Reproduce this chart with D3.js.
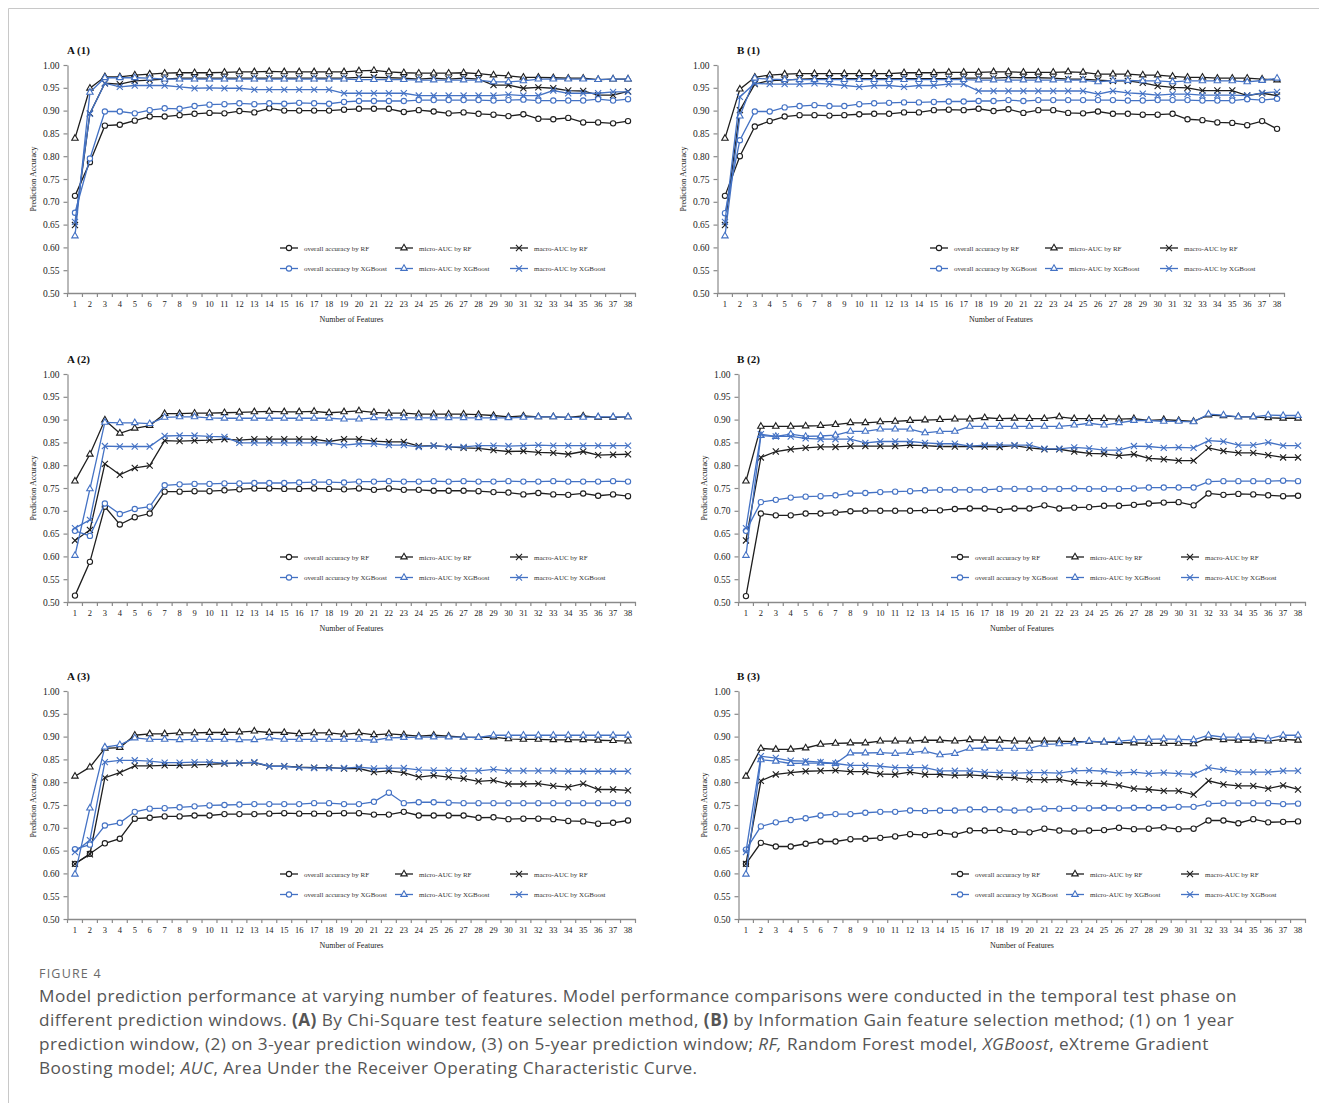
<!DOCTYPE html>
<html>
<head>
<meta charset="UTF-8">
<title>Figure 4</title>
<script src="https://d3js.org/d3.v7.min.js"></script>
<style>
  body { margin: 0; background: #fff; }
  svg text { font-family: "Liberation Serif", "Times New Roman", serif; }
  .cap { font-family: "Open Sans", "Noto Sans", sans-serif !important; }
</style>
</head>
<body>
<svg id="svg" width="1319" height="1103"></svg>
<script>
// ---- categories / ticks
var features = d3.range(1, 39);
var yTicks = [0.50, 0.55, 0.60, 0.65, 0.70, 0.75, 0.80, 0.85, 0.90, 0.95, 1.00];
var seriesLabels = ["overall accuracy by RF", "micro-AUC by RF", "macro-AUC by RF",
                    "overall accuracy by XGBoost", "micro-AUC by XGBoost", "macro-AUC by XGBoost"];

// ---- A (1)
var A1_overallRF  = [0.713,0.787,0.867,0.869,0.878,0.887,0.887,0.890,0.893,0.895,0.894,0.899,0.896,0.905,0.900,0.900,0.900,0.900,0.902,0.904,0.904,0.904,0.897,0.901,0.898,0.894,0.896,0.893,0.891,0.888,0.892,0.882,0.881,0.884,0.874,0.874,0.872,0.877];
var A1_microRF    = [0.839,0.949,0.974,0.974,0.978,0.980,0.982,0.983,0.983,0.983,0.984,0.985,0.985,0.986,0.985,0.985,0.985,0.985,0.985,0.987,0.988,0.985,0.983,0.982,0.982,0.982,0.983,0.981,0.978,0.976,0.973,0.973,0.972,0.971,0.971,0.968,0.969,0.969];
var A1_macroRF    = [0.649,0.894,0.960,0.958,0.965,0.967,0.969,0.971,0.971,0.971,0.971,0.971,0.971,0.971,0.971,0.971,0.971,0.971,0.971,0.973,0.973,0.972,0.971,0.969,0.971,0.969,0.971,0.969,0.956,0.956,0.949,0.951,0.949,0.944,0.943,0.934,0.934,0.942];
var A1_overallXGB = [0.676,0.795,0.898,0.898,0.894,0.901,0.905,0.904,0.910,0.913,0.914,0.916,0.914,0.916,0.915,0.917,0.916,0.915,0.919,0.921,0.921,0.921,0.921,0.923,0.923,0.923,0.923,0.923,0.922,0.923,0.924,0.922,0.922,0.922,0.922,0.925,0.922,0.925];
var A1_microXGB   = [0.625,0.940,0.972,0.972,0.972,0.971,0.969,0.969,0.969,0.969,0.969,0.969,0.969,0.969,0.969,0.969,0.969,0.969,0.969,0.968,0.968,0.968,0.968,0.967,0.967,0.967,0.967,0.967,0.963,0.963,0.965,0.969,0.969,0.969,0.969,0.968,0.969,0.969];
var A1_macroXGB   = [0.656,0.893,0.960,0.952,0.955,0.955,0.955,0.952,0.949,0.950,0.949,0.949,0.946,0.946,0.946,0.946,0.946,0.946,0.938,0.938,0.938,0.938,0.938,0.933,0.933,0.933,0.933,0.933,0.933,0.935,0.933,0.933,0.944,0.938,0.938,0.938,0.941,0.941];

// ---- B (1)
var B1_overallRF  = [0.713,0.800,0.865,0.877,0.887,0.890,0.890,0.889,0.890,0.892,0.893,0.893,0.896,0.896,0.901,0.902,0.901,0.904,0.899,0.903,0.895,0.901,0.901,0.895,0.894,0.898,0.893,0.893,0.891,0.891,0.893,0.881,0.879,0.874,0.873,0.868,0.877,0.860];
var B1_microRF    = [0.839,0.947,0.973,0.978,0.980,0.981,0.981,0.981,0.981,0.981,0.981,0.981,0.983,0.983,0.983,0.984,0.984,0.984,0.985,0.985,0.984,0.984,0.984,0.985,0.984,0.980,0.980,0.980,0.978,0.978,0.975,0.973,0.973,0.971,0.971,0.971,0.969,0.967];
var B1_macroRF    = [0.649,0.901,0.958,0.966,0.967,0.969,0.970,0.970,0.970,0.970,0.970,0.970,0.970,0.970,0.970,0.970,0.971,0.971,0.971,0.973,0.972,0.972,0.971,0.969,0.969,0.967,0.965,0.965,0.961,0.954,0.951,0.950,0.944,0.944,0.944,0.933,0.938,0.933];
var B1_overallXGB = [0.675,0.835,0.898,0.898,0.907,0.910,0.912,0.910,0.910,0.914,0.916,0.917,0.918,0.918,0.919,0.920,0.920,0.921,0.921,0.923,0.921,0.923,0.923,0.923,0.923,0.923,0.923,0.922,0.922,0.923,0.923,0.923,0.922,0.922,0.922,0.925,0.923,0.926];
var B1_microXGB   = [0.625,0.888,0.971,0.969,0.968,0.968,0.968,0.968,0.968,0.968,0.968,0.968,0.968,0.968,0.968,0.968,0.968,0.967,0.967,0.967,0.967,0.967,0.967,0.967,0.967,0.963,0.966,0.966,0.965,0.965,0.963,0.965,0.965,0.965,0.965,0.963,0.966,0.971];
var B1_macroXGB   = [0.656,0.930,0.960,0.958,0.958,0.958,0.960,0.958,0.955,0.952,0.955,0.955,0.952,0.955,0.955,0.958,0.958,0.943,0.943,0.943,0.943,0.943,0.943,0.943,0.943,0.936,0.943,0.939,0.937,0.934,0.936,0.936,0.934,0.934,0.934,0.933,0.939,0.941];

// ---- A (2)
var A2_overallRF  = [0.514,0.588,0.709,0.670,0.686,0.694,0.742,0.742,0.743,0.743,0.745,0.747,0.749,0.749,0.748,0.748,0.749,0.748,0.747,0.749,0.746,0.749,0.746,0.746,0.744,0.744,0.744,0.743,0.741,0.740,0.736,0.739,0.736,0.735,0.738,0.733,0.736,0.732];
var A2_microRF    = [0.765,0.824,0.899,0.870,0.881,0.887,0.913,0.913,0.914,0.914,0.915,0.916,0.917,0.918,0.917,0.917,0.918,0.915,0.917,0.919,0.916,0.914,0.914,0.912,0.912,0.912,0.912,0.911,0.909,0.906,0.908,0.906,0.906,0.905,0.908,0.905,0.905,0.906];
var A2_macroRF    = [0.635,0.658,0.803,0.779,0.794,0.799,0.854,0.853,0.854,0.855,0.857,0.855,0.857,0.857,0.857,0.857,0.857,0.852,0.857,0.857,0.853,0.851,0.851,0.842,0.843,0.840,0.838,0.837,0.833,0.830,0.831,0.828,0.827,0.824,0.830,0.822,0.823,0.824];
var A2_overallXGB = [0.656,0.645,0.716,0.693,0.704,0.709,0.756,0.758,0.759,0.759,0.760,0.760,0.761,0.761,0.761,0.762,0.763,0.763,0.762,0.764,0.764,0.765,0.764,0.764,0.765,0.764,0.765,0.764,0.764,0.765,0.764,0.764,0.765,0.764,0.764,0.764,0.765,0.764];
var A2_microXGB   = [0.602,0.748,0.894,0.893,0.893,0.891,0.905,0.906,0.906,0.904,0.903,0.903,0.903,0.903,0.903,0.903,0.903,0.903,0.901,0.901,0.904,0.904,0.904,0.904,0.904,0.904,0.904,0.904,0.904,0.904,0.905,0.906,0.906,0.905,0.905,0.906,0.906,0.906];
var A2_macroXGB   = [0.662,0.680,0.842,0.841,0.841,0.841,0.864,0.865,0.865,0.863,0.862,0.849,0.849,0.849,0.849,0.849,0.849,0.849,0.844,0.847,0.847,0.844,0.844,0.840,0.843,0.840,0.840,0.843,0.843,0.842,0.843,0.844,0.843,0.843,0.843,0.843,0.843,0.843];

// ---- B (2)
var B2_overallRF  = [0.513,0.694,0.690,0.690,0.694,0.694,0.696,0.699,0.700,0.700,0.700,0.700,0.701,0.701,0.704,0.705,0.705,0.702,0.705,0.705,0.712,0.705,0.707,0.708,0.711,0.711,0.713,0.716,0.718,0.719,0.712,0.738,0.735,0.737,0.736,0.734,0.732,0.733];
var B2_microRF    = [0.765,0.885,0.885,0.885,0.886,0.887,0.889,0.893,0.893,0.895,0.896,0.898,0.899,0.900,0.901,0.901,0.904,0.902,0.903,0.902,0.902,0.906,0.902,0.902,0.902,0.901,0.902,0.898,0.900,0.898,0.896,0.910,0.908,0.906,0.906,0.904,0.903,0.903];
var B2_macroRF    = [0.635,0.817,0.830,0.835,0.838,0.840,0.840,0.842,0.842,0.842,0.842,0.844,0.843,0.841,0.841,0.841,0.841,0.840,0.843,0.838,0.835,0.835,0.830,0.826,0.825,0.821,0.824,0.815,0.813,0.810,0.810,0.838,0.831,0.827,0.827,0.822,0.817,0.817];
var B2_overallXGB = [0.656,0.719,0.724,0.729,0.731,0.732,0.734,0.738,0.739,0.741,0.742,0.743,0.745,0.746,0.746,0.746,0.746,0.748,0.748,0.748,0.748,0.748,0.749,0.748,0.748,0.748,0.749,0.751,0.751,0.751,0.751,0.764,0.765,0.765,0.765,0.765,0.766,0.765];
var B2_microXGB   = [0.602,0.865,0.863,0.868,0.863,0.864,0.866,0.874,0.874,0.879,0.879,0.879,0.871,0.874,0.874,0.885,0.885,0.885,0.885,0.885,0.885,0.885,0.888,0.892,0.888,0.893,0.898,0.898,0.896,0.896,0.895,0.912,0.910,0.906,0.906,0.910,0.909,0.909];
var B2_macroXGB   = [0.662,0.868,0.863,0.863,0.859,0.857,0.857,0.857,0.849,0.852,0.852,0.852,0.849,0.847,0.847,0.842,0.844,0.844,0.844,0.844,0.836,0.836,0.839,0.837,0.833,0.833,0.842,0.841,0.838,0.839,0.838,0.854,0.852,0.844,0.844,0.850,0.843,0.843];

// ---- A (3)
var A3_overallRF  = [0.621,0.643,0.666,0.676,0.720,0.722,0.725,0.725,0.727,0.727,0.730,0.730,0.730,0.731,0.732,0.731,0.731,0.731,0.732,0.732,0.729,0.729,0.735,0.727,0.727,0.727,0.727,0.722,0.723,0.719,0.720,0.720,0.719,0.715,0.714,0.709,0.711,0.716];
var A3_microRF    = [0.813,0.833,0.874,0.876,0.903,0.906,0.906,0.908,0.908,0.909,0.909,0.910,0.912,0.909,0.909,0.906,0.908,0.908,0.905,0.908,0.904,0.906,0.904,0.901,0.903,0.901,0.899,0.898,0.899,0.895,0.894,0.894,0.893,0.893,0.893,0.892,0.891,0.890];
var A3_macroRF    = [0.621,0.642,0.810,0.821,0.836,0.836,0.837,0.837,0.838,0.839,0.841,0.842,0.843,0.835,0.835,0.833,0.832,0.832,0.830,0.830,0.822,0.825,0.821,0.811,0.815,0.811,0.808,0.802,0.804,0.796,0.796,0.797,0.792,0.789,0.797,0.784,0.784,0.782];
var A3_overallXGB = [0.653,0.663,0.705,0.711,0.735,0.742,0.743,0.745,0.747,0.749,0.750,0.751,0.752,0.752,0.752,0.752,0.754,0.754,0.752,0.752,0.757,0.777,0.754,0.756,0.756,0.755,0.754,0.754,0.754,0.754,0.754,0.754,0.754,0.754,0.754,0.754,0.754,0.754];
var A3_microXGB   = [0.598,0.743,0.877,0.882,0.897,0.894,0.894,0.893,0.894,0.894,0.894,0.893,0.893,0.897,0.894,0.894,0.894,0.894,0.894,0.894,0.892,0.897,0.898,0.899,0.899,0.899,0.899,0.898,0.903,0.903,0.903,0.903,0.903,0.903,0.903,0.903,0.903,0.903];
var A3_macroXGB   = [0.647,0.673,0.844,0.848,0.848,0.846,0.843,0.843,0.844,0.844,0.842,0.842,0.844,0.835,0.835,0.832,0.831,0.831,0.831,0.833,0.830,0.831,0.831,0.827,0.826,0.826,0.825,0.825,0.828,0.825,0.825,0.825,0.825,0.824,0.824,0.824,0.824,0.824];

// ---- B (3)
var B3_overallRF  = [0.621,0.667,0.659,0.659,0.665,0.670,0.670,0.675,0.676,0.678,0.681,0.686,0.684,0.689,0.685,0.694,0.694,0.695,0.691,0.690,0.698,0.694,0.692,0.694,0.695,0.700,0.697,0.698,0.701,0.697,0.698,0.716,0.716,0.710,0.719,0.712,0.713,0.714];
var B3_microRF    = [0.813,0.874,0.872,0.872,0.875,0.883,0.885,0.886,0.886,0.890,0.890,0.890,0.892,0.892,0.890,0.893,0.892,0.892,0.890,0.890,0.890,0.890,0.889,0.889,0.888,0.887,0.886,0.885,0.885,0.885,0.884,0.897,0.893,0.892,0.892,0.890,0.894,0.892];
var B3_macroRF    = [0.621,0.803,0.817,0.821,0.824,0.825,0.826,0.823,0.823,0.818,0.817,0.822,0.817,0.817,0.815,0.816,0.814,0.811,0.810,0.806,0.805,0.806,0.800,0.798,0.797,0.793,0.786,0.784,0.781,0.781,0.773,0.803,0.795,0.792,0.792,0.786,0.793,0.784];
var B3_overallXGB = [0.652,0.703,0.712,0.717,0.721,0.727,0.730,0.730,0.733,0.735,0.735,0.738,0.737,0.738,0.738,0.740,0.740,0.740,0.738,0.740,0.742,0.742,0.743,0.743,0.744,0.743,0.744,0.744,0.744,0.746,0.746,0.753,0.754,0.754,0.754,0.754,0.752,0.753];
var B3_microXGB   = [0.598,0.849,0.846,0.841,0.842,0.842,0.841,0.864,0.864,0.865,0.863,0.865,0.868,0.860,0.863,0.874,0.875,0.874,0.874,0.874,0.883,0.884,0.886,0.890,0.888,0.890,0.893,0.894,0.895,0.894,0.893,0.903,0.899,0.899,0.899,0.895,0.903,0.903];
var B3_macroXGB   = [0.647,0.857,0.853,0.847,0.846,0.844,0.841,0.837,0.837,0.835,0.832,0.832,0.832,0.825,0.825,0.825,0.822,0.821,0.820,0.821,0.821,0.820,0.825,0.826,0.824,0.820,0.822,0.819,0.821,0.819,0.817,0.832,0.827,0.822,0.822,0.822,0.825,0.825];

// ---- styles
var BLACK = "#1e1e1e", BLUE = "#4472c4";
var colors = [BLACK, BLACK, BLACK, BLUE, BLUE, BLUE];

var symbolX = d3.symbolTimes || {
  draw: function(ctx, size) {
    var r = Math.sqrt(size) / 2;
    ctx.moveTo(-r, -r); ctx.lineTo(r, r);
    ctx.moveTo(r, -r); ctx.lineTo(-r, r);
  }
};
var shapes = [
  d3.symbol().type(d3.symbolCircle).size(22),
  d3.symbol().type(d3.symbolTriangle).size(18),
  d3.symbol().type(symbolX).size(26),
  d3.symbol().type(d3.symbolCircle).size(22),
  d3.symbol().type(d3.symbolTriangle).size(18),
  d3.symbol().type(symbolX).size(26)
];

var panels = [
  {title: "A (1)", tx: 67,  left: 67.5,  right: 635.5,  top: 65,  data: [A1_overallRF, A1_microRF, A1_macroRF, A1_overallXGB, A1_microXGB, A1_macroXGB]},
  {title: "B (1)", tx: 737, left: 717.5, right: 1284.5, top: 65,  data: [B1_overallRF, B1_microRF, B1_macroRF, B1_overallXGB, B1_microXGB, B1_macroXGB]},
  {title: "A (2)", tx: 67,  left: 67.5,  right: 635.5,  top: 374, data: [A2_overallRF, A2_microRF, A2_macroRF, A2_overallXGB, A2_microXGB, A2_macroXGB]},
  {title: "B (2)", tx: 737, left: 738.5, right: 1305.5, top: 374, data: [B2_overallRF, B2_microRF, B2_macroRF, B2_overallXGB, B2_microXGB, B2_macroXGB]},
  {title: "A (3)", tx: 67,  left: 67.5,  right: 635.5,  top: 691, data: [A3_overallRF, A3_microRF, A3_macroRF, A3_overallXGB, A3_microXGB, A3_macroXGB]},
  {title: "B (3)", tx: 737, left: 738.5, right: 1305.5, top: 691, data: [B3_overallRF, B3_microRF, B3_macroRF, B3_overallXGB, B3_microXGB, B3_macroXGB]}
];

var svg = d3.select("#svg");
svg.append("rect").attr("width", 1319).attr("height", 1103).attr("fill", "#fff");

// frame
svg.append("path")
  .attr("d", "M8.5,1103V8.5H1319")
  .attr("fill", "none")
  .attr("stroke", "#c8c8c8");

var AXIS = "#8a8a8a";

panels.forEach(function(p) {
  var g = svg.append("g");
  var x = d3.scaleBand().domain(features).range([p.left, p.right]);
  var y = d3.scaleLinear().domain([0.5, 1]).range([p.top + 228, p.top]);
  var cx = function(i) { return x(features[i]) + x.bandwidth() / 2; };

  // title
  g.append("text")
    .attr("x", p.tx).attr("y", p.top - 11)
    .attr("font-size", 11).attr("font-weight", "bold").attr("fill", "#111")
    .text(p.title);

  // y axis
  var ya = g.append("g")
    .attr("transform", "translate(" + p.left + ",0)")
    .call(d3.axisLeft(y).tickValues(yTicks).tickFormat(d3.format(".2f")).tickSize(4).tickPadding(4).tickSizeOuter(0));
  ya.attr("font-family", null).attr("font-size", 9.5);
  ya.selectAll("path, line").attr("stroke", AXIS).attr("stroke-width", 1.2);
  ya.selectAll("text").attr("fill", "#222");

  // x axis (labels centred in categories, ticks on category boundaries)
  var xa = g.append("g")
    .attr("transform", "translate(0," + y(0.5) + ")")
    .call(d3.axisBottom(x).tickSize(0).tickPadding(8).tickSizeOuter(0));
  xa.attr("font-family", null).attr("font-size", 8.5);
  xa.select(".domain").attr("stroke", AXIS).attr("stroke-width", 1.4);
  xa.selectAll("text").attr("fill", "#222");
  xa.selectAll(".bound")
    .data(features.map(function(d) { return x(d); }).concat([p.right]))
    .join("line").attr("class", "bound")
    .attr("x1", function(d) { return d; }).attr("x2", function(d) { return d; })
    .attr("y1", 0).attr("y2", 4)
    .attr("stroke", AXIS).attr("stroke-width", 1.2);

  // axis titles
  g.append("text")
    .attr("x", (p.left + p.right) / 2).attr("y", y(0.5) + 29)
    .attr("text-anchor", "middle").attr("font-size", 8).attr("fill", "#222")
    .text("Number of Features");
  g.append("text")
    .attr("transform", "translate(" + (p.left - 32) + "," + (p.top + 114) + ")rotate(-90)")
    .attr("text-anchor", "middle").attr("font-size", 8).attr("fill", "#222")
    .text("Prediction Accuracy");

  // series
  var line = d3.line()
    .x(function(d, i) { return cx(i); })
    .y(function(d) { return y(d); });

  p.data.forEach(function(vals, s) {
    var sg = g.append("g");
    sg.append("path")
      .attr("d", line(vals))
      .attr("fill", "none")
      .attr("stroke", colors[s])
      .attr("stroke-width", 1.3);
    sg.selectAll("path.m")
      .data(vals)
      .join("path").attr("class", "m")
      .attr("transform", function(d, i) { return "translate(" + cx(i) + "," + y(d) + ")"; })
      .attr("d", shapes[s])
      .attr("fill", s % 3 === 2 ? "none" : "#fff")
      .attr("stroke", colors[s])
      .attr("stroke-width", 1.1);
  });

  // legend
  var lg = g.append("g");
  seriesLabels.forEach(function(lab, s) {
    var lx = p.left + 212.5 + (s % 3) * 115;
    var ly = p.top + 183 + Math.floor(s / 3) * 20.5;
    lg.append("line")
      .attr("x1", lx).attr("x2", lx + 18).attr("y1", ly).attr("y2", ly)
      .attr("stroke", colors[s]).attr("stroke-width", 1.3);
    lg.append("path")
      .attr("transform", "translate(" + (lx + 9) + "," + ly + ")")
      .attr("d", shapes[s])
      .attr("fill", s % 3 === 2 ? "none" : "#fff")
      .attr("stroke", colors[s]).attr("stroke-width", 1.1);
    lg.append("text")
      .attr("x", lx + 24).attr("y", ly + 2.5)
      .attr("font-size", 7).attr("fill", "#333")
      .text(lab);
  });
});

// caption
svg.append("text").attr("class", "cap")
  .attr("x", 39).attr("y", 978)
  .attr("font-size", 12.5).attr("fill", "#6a6a6a").attr("letter-spacing", 1.2)
  .text("FIGURE 4");

var capLines = [
  [["Model prediction performance at varying number of features. Model performance comparisons were conducted in the temporal test phase on", ""]],
  [["different prediction windows. ", ""], ["(A)", "b"], [" By Chi-Square test feature selection method, ", ""], ["(B)", "b"], [" by Information Gain feature selection method; (1) on 1 year", ""]],
  [["prediction window, (2) on 3-year prediction window, (3) on 5-year prediction window; ", ""], ["RF,", "i"], [" Random Forest model, ", ""], ["XGBoost", "i"], [", eXtreme Gradient", ""]],
  [["Boosting model; ", ""], ["AUC", "i"], [", Area Under the Receiver Operating Characteristic Curve.", ""]]
];
var cap = svg.append("text").attr("class", "cap")
  .attr("font-size", 17.2).attr("letter-spacing", 0.45).attr("fill", "#555");
capLines.forEach(function(parts, li) {
  parts.forEach(function(pt, k) {
    var t = cap.append("tspan").text(pt[0]);
    if (k === 0) t.attr("x", 39).attr("y", 1002 + li * 24);
    if (pt[1] === "b") t.attr("font-weight", "bold");
    if (pt[1] === "i") t.attr("font-style", "italic");
  });
});
</script>
</body>
</html>
